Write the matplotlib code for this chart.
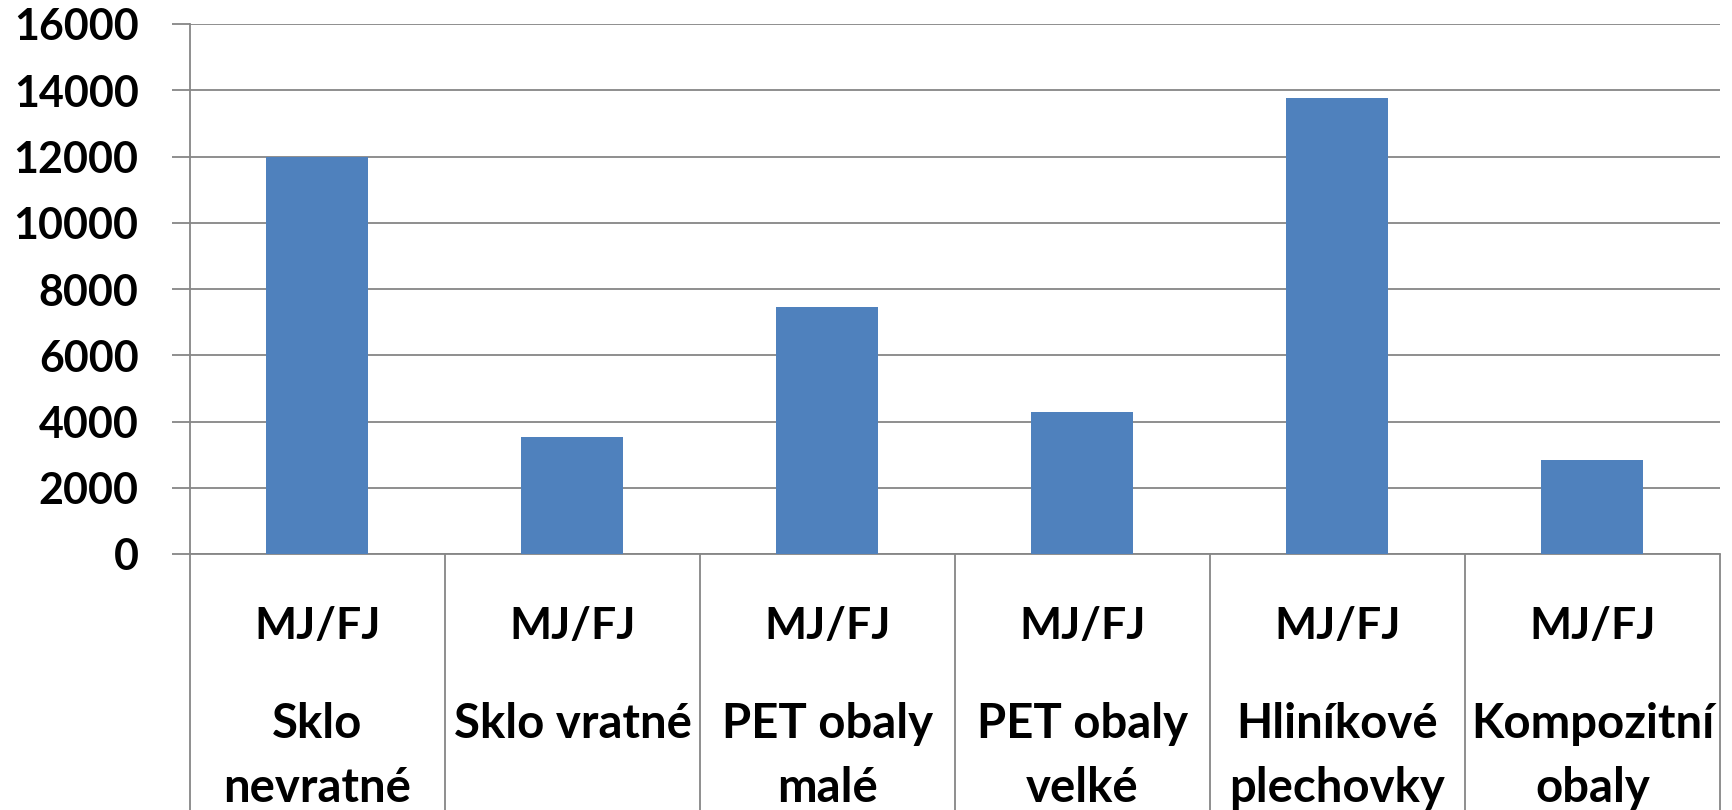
import matplotlib.pyplot as plt
import numpy as np

# Data
categories = ['Sklo\nnevratné', 'Sklo vratné', 'PET obaly\nmalé',
              'PET obaly\nvelké', 'Hliníkové\nplechovky', 'Kompozitní\nobaly']
unit_label = 'MJ/FJ'
values = [12000, 3540, 7460, 4290, 13780, 2850]
y_ticks = [0, 2000, 4000, 6000, 8000, 10000, 12000, 14000, 16000]

bar_color = '#4F81BD'
line_color = '#868686'

plt.rcParams['font.family'] = ['Lato', 'DejaVu Sans']

W, H = 1733, 810
fig = plt.figure(figsize=(W / 100, H / 100), dpi=100)
fig.patch.set_facecolor('white')

# Plot area in pixels: left 190, right 1720, top 24, bottom 554
ax = fig.add_axes([190 / W, (H - 554) / H, (1720 - 190) / W, (554 - 24) / H])

x = np.arange(len(categories))
ax.bar(x, values, width=0.4, color=bar_color, zorder=3)

ax.set_xlim(-0.5, len(categories) - 0.5)
ax.set_ylim(0, 16000)
ax.set_yticks(y_ticks)
ax.set_yticklabels([str(t) for t in y_ticks], fontsize=31, fontweight='bold')
ax.set_xticks([])

ax.yaxis.grid(True, color=line_color, linewidth=1.3, zorder=0)
ax.set_axisbelow(True)
ax.tick_params(axis='y', direction='out', length=13, width=1.3,
               color=line_color, pad=24)

for side in ['top', 'right']:
    ax.spines[side].set_visible(False)
for side in ['left', 'bottom']:
    ax.spines[side].set_color(line_color)
    ax.spines[side].set_linewidth(1.3)

# Category box below the axis
axis_h = 554 - 24
box_depth = (H - 554) / axis_h
trans = ax.get_xaxis_transform()
ax.vlines(np.arange(len(categories) + 1) - 0.5, -box_depth, 0,
          transform=trans, colors=line_color, linewidth=1.3, clip_on=False)

# baselines in pixels below the zero line
unit_offset = 85
line_offsets = [184, 248]

for i, name in enumerate(categories):
    ax.text(i, -unit_offset / axis_h, unit_label, transform=trans,
            ha='center', va='baseline', fontsize=32, fontweight='bold')
    for k, line in enumerate(name.split('\n')):
        ax.text(i, -line_offsets[k] / axis_h, line, transform=trans,
                ha='center', va='baseline', fontsize=34, fontweight='bold')

fig.savefig('out.png', dpi=100, facecolor='white')
